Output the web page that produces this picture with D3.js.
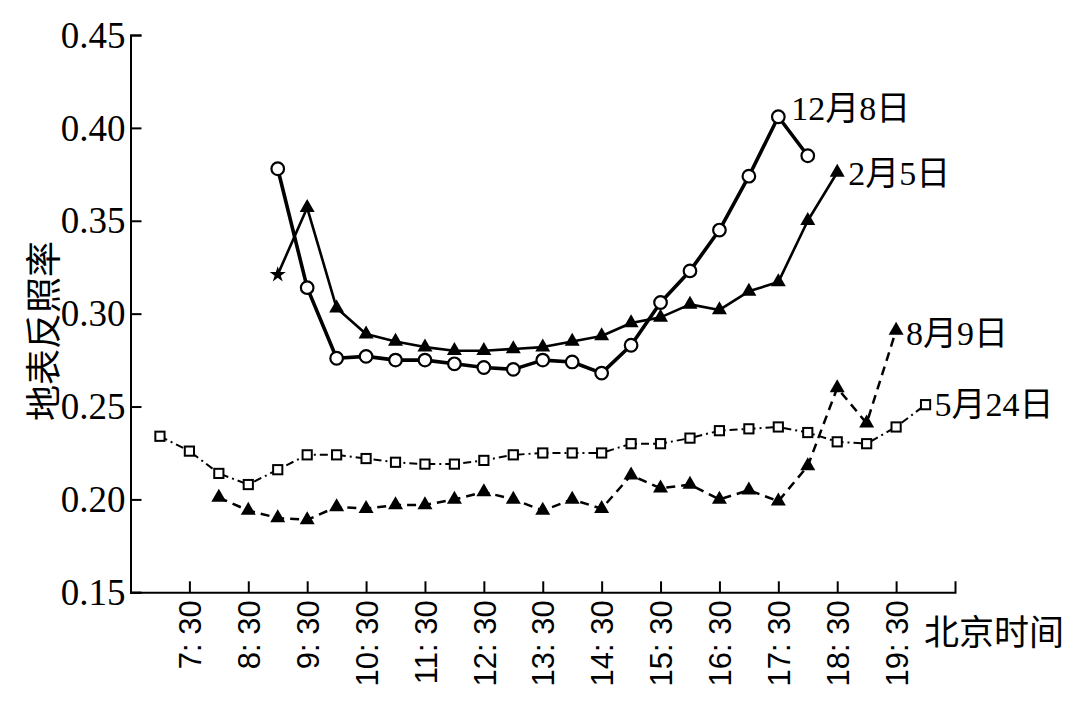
<!DOCTYPE html>
<html>
<head>
<meta charset="utf-8">
<script src="https://cdn.jsdelivr.net/npm/d3@7"></script>
<style>
  body { margin: 0; background: #fff; }
  .axis path, .axis line { stroke: #000; stroke-width: 2; }
</style>
</head>
<body>
<div id="chart"></div>
<script>
// half-hour sampling times (Beijing time)
const times = ["7:00","7:30","8:00","8:30","9:00","9:30","10:00","10:30","11:00","11:30",
  "12:00","12:30","13:00","13:30","14:00","14:30","15:00","15:30","16:00","16:30",
  "17:00","17:30","18:00","18:30","19:00","19:30","20:00"];

const xTickLabels = ["7:30","8:30","9:30","10:30","11:30","12:30","13:30","14:30",
  "15:30","16:30","17:30","18:30","19:30"];
const yTickValues = [0.15, 0.20, 0.25, 0.30, 0.35, 0.40, 0.45];

// albedo per series (null = no observation)
const dec8 = [null,null,null,null,0.378,0.314,0.276,0.277,0.275,0.275,
  0.273,0.271,0.270,0.275,0.274,0.268,0.283,0.306,0.323,0.345,
  0.374,0.406,0.385,null,null,null,null];
const feb5 = [null,null,null,null,0.321,0.357,0.303,0.289,0.285,0.282,
  0.280,0.280,0.281,0.282,0.285,0.288,0.295,0.298,0.305,0.302,
  0.312,0.317,0.350,0.376,null,null,null];
const aug9 = [null,null,0.201,0.194,0.190,0.189,0.196,0.195,0.197,0.197,
  0.200,0.204,0.200,0.194,0.200,0.195,0.213,0.206,0.208,0.200,
  0.205,0.199,0.218,0.260,0.241,0.291,null];
const may24 = [0.234,0.226,0.214,0.208,0.216,0.224,0.224,0.222,0.220,0.219,
  0.219,0.221,0.224,0.225,0.225,0.225,0.230,0.230,0.233,0.237,
  0.238,0.239,0.236,0.231,0.230,0.239,0.251];

const seriesNames = ["5月24日", "8月9日", "2月5日", "12月8日"];

const width = 1080, height = 706;
const toHour = s => { const p = s.split(":"); return +p[0] + (+p[1]) / 60; };

const x = d3.scaleLinear().domain([6.5, 20.5]).range([130.5, 955]);
const y = d3.scaleLinear().domain([0.15, 0.45]).range([592.3, 35]);

const series = [
  {name: seriesNames[0], vals: may24, marker: "square", width: 2, dash: "8,4,2,4", ldx: 9, ldy: 0},
  {name: seriesNames[1], vals: aug9, marker: "tri", width: 2.5, dash: "9,6", ldx: 10, ldy: 3},
  {name: seriesNames[2], vals: feb5, marker: "tri", width: 2.6, dash: null, ldx: 11, ldy: 1.5},
  {name: seriesNames[3], vals: dec8, marker: "circle", width: 3.6, dash: null, ldx: 13, ldy: -8}
].map(s => Object.assign(s, {
  pts: times.map((t, i) => ({t: toHour(t), v: s.vals[i], i: i})).filter(d => d.v != null)
}));

const svg = d3.select("#chart").append("svg")
  .attr("width", width).attr("height", height)
  .style("background", "#fff");

const xAxis = d3.axisBottom(x)
  .tickValues(xTickLabels.map(toHour))
  .tickFormat((d, i) => xTickLabels[i].replace(":", ": "))
  .tickSize(-11).tickSizeOuter(-11);

const yAxis = d3.axisLeft(y)
  .tickValues(yTickValues)
  .tickFormat(d3.format(".2f"))
  .tickSize(-11).tickSizeOuter(-11).tickPadding(5);

const gx = svg.append("g").attr("class", "axis")
  .attr("transform", `translate(0,${y.range()[0]})`)
  .call(xAxis);
gx.selectAll("text")
  .attr("transform", "rotate(-90)")
  .attr("text-anchor", "end")
  .attr("x", -8).attr("y", 0).attr("dy", "0.36em")
  .style("font-family", "'Liberation Sans', Arial, sans-serif")
  .style("font-size", "31px")
  .attr("fill", "#000");

const gy = svg.append("g").attr("class", "axis")
  .attr("transform", `translate(${x.range()[0]},0)`)
  .call(yAxis);
gy.selectAll("text")
  .attr("dy", "0.33em")
  .style("font-family", "'Liberation Serif', 'Times New Roman', serif")
  .style("font-size", "37px")
  .attr("fill", "#000");

// axis titles
svg.append("text")
  .attr("transform", "translate(41,331) rotate(-90)")
  .attr("text-anchor", "middle")
  .attr("dominant-baseline", "central")
  .style("font-family", "'Noto Sans CJK SC', sans-serif")
  .style("font-size", "36px")
  .text("地表反照率");

svg.append("text")
  .attr("x", x.range()[1] - 31)
  .attr("y", y.range()[0] + 37)
  .attr("dominant-baseline", "central")
  .style("font-family", "'Noto Sans CJK SC', sans-serif")
  .style("font-size", "35px")
  .text("北京时间");

// lines
const line = d3.line().x(d => x(d.t)).y(d => y(d.v));
series.forEach(s => {
  svg.append("path")
    .datum(s.pts)
    .attr("d", line)
    .attr("fill", "none")
    .attr("stroke", "#000")
    .attr("stroke-width", s.width)
    .attr("stroke-linejoin", "round")
    .attr("stroke-dasharray", s.dash);
});

// markers
const tri = "M0,-8.7L7.5,4.3L-7.5,4.3Z";
const star = d3.symbol().type(d3.symbolStar).size(80)();
series.forEach(s => {
  const g = svg.append("g");
  s.pts.forEach((d, k) => {
    const cx = x(d.t), cy = y(d.v);
    if (s.marker === "circle") {
      g.append("circle").attr("cx", cx).attr("cy", cy).attr("r", 6.3)
        .attr("fill", "#fff").attr("stroke", "#000").attr("stroke-width", 2.2);
    } else if (s.marker === "square") {
      g.append("rect").attr("x", cx - 4.6).attr("y", cy - 4.6)
        .attr("width", 9.2).attr("height", 9.2)
        .attr("fill", "#fff").attr("stroke", "#000").attr("stroke-width", 2);
    } else if (s.name === "2月5日" && k === 0) {
      g.append("path").attr("d", star).attr("transform", `translate(${cx},${cy})`).attr("fill", "#000");
    } else {
      g.append("path").attr("d", tri).attr("transform", `translate(${cx},${cy})`).attr("fill", "#000");
    }
  });
});

// labels sit next to each series' highest point
series.forEach(s => {
  const top = s.pts.reduce((a, b) => (b.v > a.v ? b : a));
  svg.append("text")
    .attr("x", x(top.t) + s.ldx)
    .attr("y", y(top.v) + s.ldy)
    .attr("dominant-baseline", "central")
    .style("font-family", "'Liberation Serif', 'Noto Sans CJK SC', serif")
    .style("font-size", "34px")
    .text(s.name);
});
</script>
</body>
</html>
